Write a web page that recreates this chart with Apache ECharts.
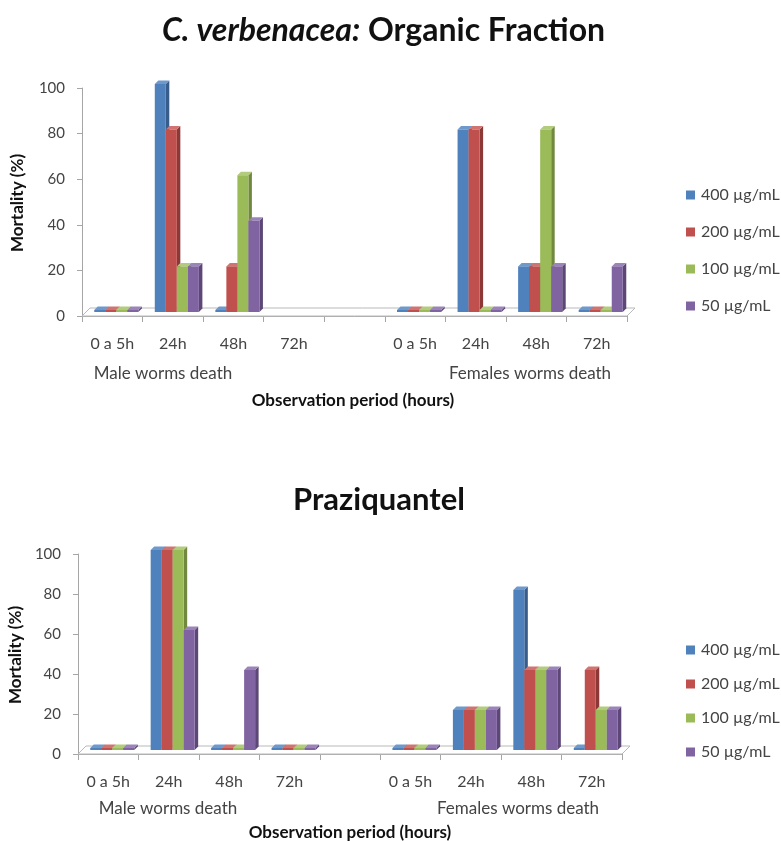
<!DOCTYPE html>
<html>
<head>
<meta charset="utf-8">
<script src="https://cdn.jsdelivr.net/npm/echarts@6/dist/echarts.min.js"></script>
<style>
  html, body { margin: 0; padding: 0; background: #ffffff; }
  #chart { width: 781px; height: 841px; }
</style>
</head>
<body>
<div id="chart"></div>
<script>
// Observation periods: male group, spacer, female group
const categories = ['0 a 5h', '24h', '48h', '72h', '', '0 a 5h', '24h', '48h', '72h'];
const seriesNames = ['400 µg/mL', '200 µg/mL', '100 µg/mL', '50 µg/mL'];
const yTicks = [0, 20, 40, 60, 80, 100];

// C. verbenacea organic fraction – mortality (%)
const verbenacea400 = [0, 100, 0, null, null, 0, 80, 20, 0];
const verbenacea200 = [0, 80, 20, null, null, 0, 80, 20, 0];
const verbenacea100 = [0, 20, 60, null, null, 0, 0, 80, 0];
const verbenacea50  = [0, 20, 40, null, null, 0, 0, 20, 20];

// Praziquantel – mortality (%)
const praziquantel400 = [0, 100, 0, 0, null, 0, 20, 80, 0];
const praziquantel200 = [0, 100, 0, 0, null, 0, 20, 40, 40];
const praziquantel100 = [0, 100, 0, 0, null, 0, 20, 40, 20];
const praziquantel50  = [0, 60, 40, 0, null, 0, 20, 40, 20];

// front / side / top face colours for each concentration
const palette = [
  { front: '#4F81BD', side: '#385D8A', top: '#6F98CB' },
  { front: '#C0504D', side: '#8C3836', top: '#CF7471' },
  { front: '#9BBB59', side: '#71893F', top: '#B2CC7D' },
  { front: '#8064A2', side: '#5C4776', top: '#9B84B8' }
];

const FONT = 'Lato, "Open Sans", sans-serif';
const DEPTH = 8;      // floor depth in px
const SHIFT = 4;      // bars sit in the middle of the floor depth
const SIDE = 3.5;     // visible side/top face of each bar

function barRenderer(k) {
  const c = palette[k];
  return function (params, api) {
    const v = api.value(1);
    if (v == null || isNaN(v)) return;
    const cat = api.value(0);
    const base = api.coord([cat, 0]);
    const tip = api.coord([cat, v]);
    const band = api.size([1, 0])[0];
    const w = band * 0.182;
    const x = base[0] - 2 * w + k * w + SHIFT;
    const yb = base[1] - SHIFT;
    let yt = tip[1] - SHIFT;
    if (yb - yt < 2) yt = yb - 2;
    return {
      type: 'group',
      children: [
        { type: 'polygon', shape: { points: [[x + w, yt], [x + w + SIDE, yt - SIDE], [x + w + SIDE, yb - SIDE], [x + w, yb]] }, style: { fill: c.side } },
        { type: 'polygon', shape: { points: [[x, yt], [x + SIDE, yt - SIDE], [x + w + SIDE, yt - SIDE], [x + w, yt]] }, style: { fill: c.top } },
        { type: 'rect', shape: { x: x, y: yt, width: w, height: yb - yt }, style: { fill: c.front } }
      ]
    };
  };
}

function floorRenderer(params) {
  const cs = params.coordSys;
  const x = cs.x, y = cs.y + cs.height, w = cs.width;
  return {
    type: 'polygon',
    shape: { points: [[x, y], [x + DEPTH, y - DEPTH], [x + w + DEPTH, y - DEPTH], [x + w, y]] },
    style: { fill: '#ffffff', stroke: '#b9b9b9', lineWidth: 1 }
  };
}

function toPairs(arr) {
  const out = [];
  arr.forEach(function (v, i) { if (v !== null) out.push([i, v]); });
  return out;
}

function panelSeries(idx, groups) {
  const list = [{
    type: 'custom', name: 'floor' + idx, xAxisIndex: idx, yAxisIndex: idx,
    silent: true, renderItem: floorRenderer, data: [[0, 0]], z: 1
  }];
  groups.forEach(function (arr, k) {
    list.push({
      type: 'custom', name: seriesNames[k], xAxisIndex: idx, yAxisIndex: idx,
      renderItem: barRenderer(k), itemStyle: { color: palette[k].front },
      encode: { x: 0, y: 1 }, data: toPairs(arr), z: 2
    });
  });
  return list;
}

function xAxisFor(idx) {
  return {
    type: 'category', gridIndex: idx, data: categories,
    axisLine: { show: true, lineStyle: { color: '#a6a6a6' } },
    axisTick: { show: true, interval: 0, length: 6, lineStyle: { color: '#a6a6a6' } },
    axisLabel: { interval: 0, color: '#444', fontFamily: FONT, fontSize: 16, margin: 20 }
  };
}

function yAxisFor(idx) {
  return {
    type: 'value', gridIndex: idx, min: yTicks[0], max: yTicks[yTicks.length - 1], interval: 20,
    axisLine: { show: true, lineStyle: { color: '#a6a6a6' } },
    axisTick: { show: true, length: 5, lineStyle: { color: '#a6a6a6' } },
    splitLine: { show: false },
    axisLabel: { color: '#444', fontFamily: FONT, fontSize: 15, margin: 17 }
  };
}

function legendFor(top, gap) {
  return {
    orient: 'vertical', left: 681, top: top, itemGap: gap,
    itemWidth: 9, itemHeight: 9, icon: 'rect', data: seriesNames,
    selectedMode: false,
    textStyle: { color: '#444', fontFamily: FONT, fontSize: 16, padding: [0, 0, 0, 1] }
  };
}

function caption(text, x, y, size, weight) {
  return {
    type: 'text', x: x, y: y, silent: true,
    style: {
      text: text, fill: weight === 'bold' ? '#111' : '#444',
      font: (weight || 'normal') + ' ' + size + 'px ' + FONT,
      textAlign: 'center', textVerticalAlign: 'middle'
    }
  };
}

function axisTitle(text, x, y) {
  return {
    type: 'text', x: x, y: y, rotation: Math.PI / 2, silent: true,
    style: { text: text, fill: '#111', font: 'bold 17px ' + FONT, textAlign: 'center', textVerticalAlign: 'middle' }
  };
}

const chart = echarts.init(document.getElementById('chart'), null, { renderer: 'canvas' });

chart.setOption({
  backgroundColor: '#ffffff',
  animation: false,
  title: [
    {
      text: '{i|C. verbenacea:}{n| Organic Fraction}', left: 157, top: 10,
      textStyle: { rich: {
        i: { fontFamily: FONT, fontSize: 32, fontWeight: 'bold', fontStyle: 'italic', color: '#111' },
        n: { fontFamily: FONT, fontSize: 32, fontWeight: 'bold', color: '#111' }
      } }
    },
    {
      text: 'Praziquantel', left: 288, top: 479,
      textStyle: { fontFamily: FONT, fontSize: 31, fontWeight: 'bold', color: '#111' }
    }
  ],
  grid: [
    { left: 82, top: 88, width: 545, height: 228 },
    { left: 78, top: 554, width: 544, height: 200 }
  ],
  xAxis: [xAxisFor(0), xAxisFor(1)],
  yAxis: [yAxisFor(0), yAxisFor(1)],
  legend: [legendFor(182, 21), legendFor(637, 18)],
  series: panelSeries(0, [verbenacea400, verbenacea200, verbenacea100, verbenacea50])
    .concat(panelSeries(1, [praziquantel400, praziquantel200, praziquantel100, praziquantel50])),
  graphic: [
    caption('Male worms death', 163, 374, 17),
    caption('Females worms death', 530, 374, 17),
    caption('Observation period (hours)', 353, 401, 17, 'bold'),
    axisTitle('Mortality (%)', 18, 203),
    caption('Male worms death', 168, 809, 17),
    caption('Females worms death', 518, 809, 17),
    caption('Observation period (hours)', 350, 833, 17, 'bold'),
    axisTitle('Mortality (%)', 16, 655)
  ]
});
</script>
</body>
</html>
